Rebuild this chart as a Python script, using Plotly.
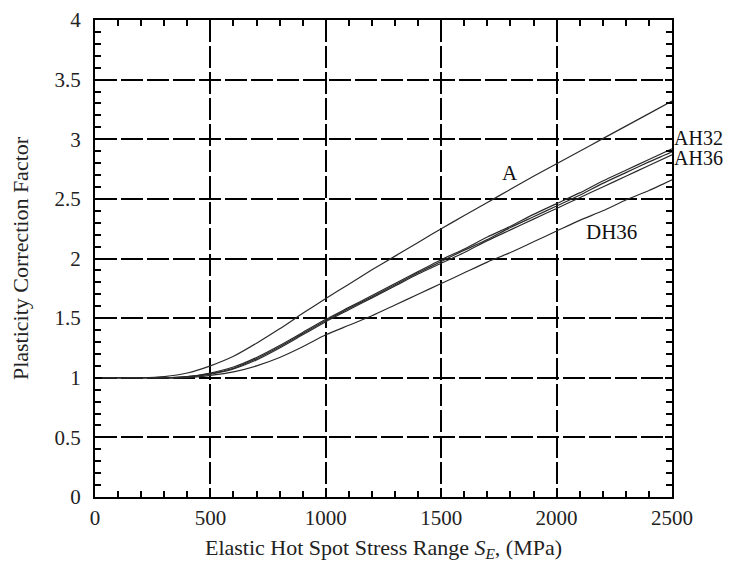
import plotly.graph_objects as go

stress = [0, 100, 200, 300, 400, 500, 600, 700, 800, 900, 1000, 1100, 1200,
          1300, 1400, 1500, 1600, 1700, 1800, 1900, 2000, 2100, 2200, 2300, 2400, 2500]

factor_A = [1.0, 1.0, 1.0, 1.01, 1.04, 1.10, 1.18, 1.29, 1.41, 1.54, 1.665, 1.785, 1.905,
            2.02, 2.135, 2.25, 2.36, 2.47, 2.58, 2.69, 2.795, 2.90, 3.005, 3.11, 3.215, 3.32]
factor_AH32 = [1.0, 1.0, 1.0, 1.0, 1.01, 1.04, 1.09, 1.17, 1.27, 1.38, 1.49, 1.59, 1.69,
               1.79, 1.89, 1.99, 2.08, 2.18, 2.27, 2.37, 2.46, 2.55, 2.65, 2.74, 2.83, 2.92]
factor_mid = [1.0, 1.0, 1.0, 1.0, 1.01, 1.035, 1.08, 1.16, 1.26, 1.37, 1.48, 1.58, 1.68,
              1.78, 1.88, 1.975, 2.07, 2.16, 2.26, 2.35, 2.44, 2.53, 2.63, 2.72, 2.81, 2.895]
factor_AH36 = [1.0, 1.0, 1.0, 1.0, 1.005, 1.03, 1.075, 1.15, 1.25, 1.36, 1.47, 1.57, 1.67,
               1.77, 1.87, 1.96, 2.05, 2.15, 2.24, 2.33, 2.42, 2.51, 2.60, 2.69, 2.78, 2.87]
factor_DH36 = [1.0, 1.0, 1.0, 1.0, 1.0, 1.02, 1.05, 1.10, 1.17, 1.26, 1.36, 1.44, 1.52,
               1.61, 1.70, 1.79, 1.88, 1.97, 2.05, 2.14, 2.23, 2.32, 2.40, 2.49, 2.57, 2.66]

# in-plot labels (data coordinates)
inner_labels = ["A", "DH36"]
inner_x = [1800, 2240]
inner_y = [2.72, 2.22]
# labels to the right of the plot (paper x, data y)
outer_labels = ["AH32", "AH36"]
outer_y = [3.01, 2.84]

FONT = "Liberation Serif, Times New Roman, serif"
LINE = "#2a2a2a"

fig = go.Figure()
for name, ys in [("A", factor_A), ("AH32", factor_AH32), ("mid", factor_mid),
                 ("AH36", factor_AH36), ("DH36", factor_DH36)]:
    fig.add_trace(go.Scatter(x=stress, y=ys, mode="lines", name=name,
                             line=dict(color=LINE, width=1.2, shape="spline", smoothing=0.6),
                             showlegend=False, hoverinfo="skip"))

for t, x, y in zip(inner_labels, inner_x, inner_y):
    fig.add_annotation(x=x, y=y, xref="x", yref="y", text=t, showarrow=False,
                       font=dict(family=FONT, size=21, color="#111"))
for t, y in zip(outer_labels, outer_y):
    fig.add_annotation(x=1.0, y=y, xref="paper", yref="y", text=t, showarrow=False,
                       xanchor="left", xshift=0,
                       font=dict(family=FONT, size=20, color="#111"))

axis_common = dict(
    showline=True, linecolor="black", linewidth=2, mirror="allticks",
    ticks="inside", ticklen=7, tickwidth=1.5, tickcolor="black",
    showgrid=True, gridcolor="black", gridwidth=1.5, griddash="22px,4px",
    zeroline=False, automargin=False,
    tickfont=dict(family=FONT, size=21, color="#222"),
)

fig.update_xaxes(range=[0, 2500], dtick=500, tick0=0,
                 minor=dict(dtick=100, ticks="inside", ticklen=6, tickwidth=1.5,
                            tickcolor="black", showgrid=False),
                 title=dict(text="Elastic Hot Spot Stress Range <i>S<sub>E</sub></i>, (MPa)",
                            font=dict(family=FONT, size=22, color="#222"), standoff=10),
                 ticklabelstandoff=1,
                 **axis_common)
fig.update_yaxes(range=[0, 4], dtick=0.5, tick0=0,
                 minor=dict(dtick=0.1, ticks="inside", ticklen=6, tickwidth=1.5,
                            tickcolor="black", showgrid=False),
                 title=dict(text="Plasticity Correction Factor",
                            font=dict(family=FONT, size=22, color="#222"), standoff=23),
                 ticklabelstandoff=8,
                 **axis_common)

fig.update_layout(
    width=719, height=556,
    margin=dict(l=87, r=55, t=12, b=67),
    paper_bgcolor="white", plot_bgcolor="white",
    font=dict(family=FONT),
)

fig.write_html("out.html")
